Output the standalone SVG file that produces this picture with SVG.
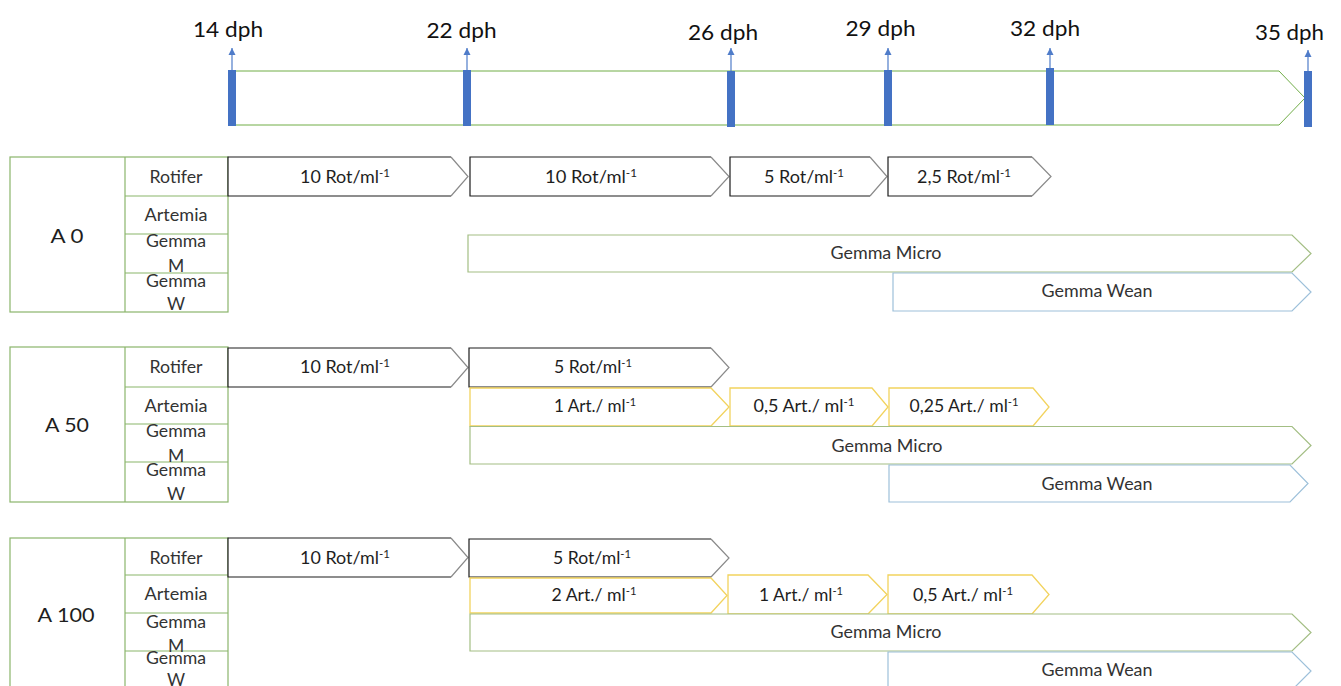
<svg xmlns="http://www.w3.org/2000/svg" width="1341" height="686" viewBox="0 0 1341 686">
<style>
text{font-family:Lato,"Open Sans","Liberation Sans",sans-serif;fill:#1e1e1e;text-anchor:middle}
.dph{font-size:21px;fill:#111}
.big{font-size:20px}
.row{font-size:17.5px;fill:#333}
.val{font-size:18px}
.sup{font-size:11.5px}
.tl{fill:#fff;stroke:#70AD47;stroke-width:1}
.bar{fill:#4472C4}
.grp{fill:#fff;stroke:#8AB56B;stroke-width:1.2}
.ln{stroke:#8AB56B;stroke-width:1.2}
.rot{fill:#fff}
.rotb{fill:none;stroke:#1c1c1c;stroke-width:1.2}
.rott{fill:none;stroke:#8a8a8a;stroke-width:1.2}
.art{fill:#fff;stroke:#F2D35E;stroke-width:1.3}
.gm{fill:#fff;stroke:#A3BE84;stroke-width:1.2}
.gw{fill:#fff;stroke:#9DC0DA;stroke-width:1.2}
.ar{stroke:#4F7CC9;stroke-width:1.2;fill:none}
</style>
<defs>
<marker id="ah" markerWidth="8" markerHeight="8" refX="7" refY="4" orient="auto" markerUnits="userSpaceOnUse">
<path d="M0,0.5 L7,4 L0,7.5 z" fill="#4F7CC9"/>
</marker>
</defs>
<rect width="1341" height="686" fill="#fff"/>

<g id="timeline">
<polygon class="tl" points="232,71 1279,71 1305,98 1279,125 232,125"/>
<rect class="bar" x="228" y="70" width="8" height="56"/>
<rect class="bar" x="463" y="70" width="8" height="56"/>
<rect class="bar" x="727" y="71" width="8" height="56"/>
<rect class="bar" x="884" y="70" width="8" height="56"/>
<rect class="bar" x="1046" y="68" width="8" height="57"/>
<rect class="bar" x="1304" y="71" width="8" height="56"/>
<text class="dph" x="228" y="37" textLength="70" lengthAdjust="spacingAndGlyphs">14 dph</text>
<text class="dph" x="461.5" y="38" textLength="70" lengthAdjust="spacingAndGlyphs">22 dph</text>
<text class="dph" x="723" y="40" textLength="70" lengthAdjust="spacingAndGlyphs">26 dph</text>
<text class="dph" x="880.5" y="36" textLength="70" lengthAdjust="spacingAndGlyphs">29 dph</text>
<text class="dph" x="1045" y="36" textLength="70" lengthAdjust="spacingAndGlyphs">32 dph</text>
<text class="dph" x="1289.5" y="40" textLength="69" lengthAdjust="spacingAndGlyphs">35 dph</text>
</g>

<g id="connectors">
<line class="ar" x1="232" y1="70" x2="232" y2="48" marker-end="url(#ah)"/>
<line class="ar" x1="467" y1="70" x2="467" y2="48" marker-end="url(#ah)"/>
<line class="ar" x1="731" y1="71" x2="731" y2="48" marker-end="url(#ah)"/>
<line class="ar" x1="888" y1="70" x2="888" y2="48" marker-end="url(#ah)"/>
<line class="ar" x1="1050" y1="68" x2="1050" y2="48" marker-end="url(#ah)"/>
<line class="ar" x1="1308" y1="71" x2="1308" y2="50" marker-end="url(#ah)"/>
</g>

<!-- ===== A 0 ===== -->
<g id="A0-label">
<rect class="grp" x="10" y="157" width="218" height="155"/>
<line class="ln" x1="125" y1="157" x2="125" y2="312"/>
<line class="ln" x1="125" y1="196" x2="228" y2="196"/>
<line class="ln" x1="125" y1="234" x2="228" y2="234"/>
<line class="ln" x1="125" y1="273" x2="228" y2="273"/>
<text class="big" x="67" y="243" textLength="33" lengthAdjust="spacingAndGlyphs">A 0</text>
<text class="row" x="176" y="183" textLength="53" lengthAdjust="spacingAndGlyphs">Rotifer</text>
<text class="row" x="176" y="221" textLength="63" lengthAdjust="spacingAndGlyphs">Artemia</text>
<text class="row" x="176" y="247" textLength="60" lengthAdjust="spacingAndGlyphs">Gemma</text>
<text class="row" x="176" y="271.5">M</text>
<text class="row" x="176" y="287" textLength="60" lengthAdjust="spacingAndGlyphs">Gemma</text>
<text class="row" x="176" y="310">W</text>
</g>
<g id="A0-rot1">
<polygon class="rot" points="228,157 451,157 468,176.5 451,196 228,196"/>
<path class="rotb" d="M451,157 H228 V196 H451"/><path class="rott" d="M451,157 L468,176.5 L451,196"/>
<text class="val" x="345" y="183" textLength="90" lengthAdjust="spacingAndGlyphs">10 Rot/ml<tspan class="sup" dy="-6">-1</tspan></text>
</g>
<g id="A0-rot2">
<polygon class="rot" points="470,157 711,157 729,176.5 711,196 470,196"/>
<path class="rotb" d="M711,157 H470 V196 H711"/><path class="rott" d="M711,157 L729,176.5 L711,196"/>
<text class="val" x="591" y="183" textLength="92" lengthAdjust="spacingAndGlyphs">10 Rot/ml<tspan class="sup" dy="-6">-1</tspan></text>
</g>
<g id="A0-rot3">
<polygon class="rot" points="730,157 870,157 887,176.5 870,196 730,196"/>
<path class="rotb" d="M870,157 H730 V196 H870"/><path class="rott" d="M870,157 L887,176.5 L870,196"/>
<text class="val" x="804" y="183" textLength="80" lengthAdjust="spacingAndGlyphs">5 Rot/ml<tspan class="sup" dy="-6">-1</tspan></text>
</g>
<g id="A0-rot4">
<polygon class="rot" points="888,157 1032,157 1051,176.5 1032,196 888,196"/>
<path class="rotb" d="M1032,157 H888 V196 H1032"/><path class="rott" d="M1032,157 L1051,176.5 L1032,196"/>
<text class="val" x="964" y="183" textLength="94" lengthAdjust="spacingAndGlyphs">2,5 Rot/ml<tspan class="sup" dy="-6">-1</tspan></text>
</g>
<g id="A0-gemma-micro">
<polygon class="gm" points="468,235 1292,235 1311,253.5 1292,272 468,272"/>
<text class="row" x="886" y="259" textLength="111" lengthAdjust="spacingAndGlyphs">Gemma Micro</text>
</g>
<g id="A0-gemma-wean">
<polygon class="gw" points="893,273 1292,273 1311,292 1292,311 893,311"/>
<text class="row" x="1097" y="297" textLength="111" lengthAdjust="spacingAndGlyphs">Gemma Wean</text>
</g>

<!-- ===== A 50 ===== -->
<g id="A50-label">
<rect class="grp" x="10" y="347" width="218" height="155"/>
<line class="ln" x1="125" y1="347" x2="125" y2="502"/>
<line class="ln" x1="125" y1="387" x2="228" y2="387"/>
<line class="ln" x1="125" y1="424" x2="228" y2="424"/>
<line class="ln" x1="125" y1="462" x2="228" y2="462"/>
<text class="big" x="67" y="432" textLength="44" lengthAdjust="spacingAndGlyphs">A 50</text>
<text class="row" x="176" y="373" textLength="53" lengthAdjust="spacingAndGlyphs">Rotifer</text>
<text class="row" x="176" y="412" textLength="63" lengthAdjust="spacingAndGlyphs">Artemia</text>
<text class="row" x="176" y="437" textLength="60" lengthAdjust="spacingAndGlyphs">Gemma</text>
<text class="row" x="176" y="461.5">M</text>
<text class="row" x="176" y="476" textLength="60" lengthAdjust="spacingAndGlyphs">Gemma</text>
<text class="row" x="176" y="499.5">W</text>
</g>
<g id="A50-rot1">
<polygon class="rot" points="228,348 451,348 468,367.5 451,387 228,387"/>
<path class="rotb" d="M451,348 H228 V387 H451"/><path class="rott" d="M451,348 L468,367.5 L451,387"/>
<text class="val" x="345" y="373" textLength="90" lengthAdjust="spacingAndGlyphs">10 Rot/ml<tspan class="sup" dy="-6">-1</tspan></text>
</g>
<g id="A50-rot2">
<polygon class="rot" points="469,348 711,348 729,367.5 711,387 469,387"/>
<path class="rotb" d="M711,348 H469 V387 H711"/><path class="rott" d="M711,348 L729,367.5 L711,387"/>
<text class="val" x="593" y="373" textLength="78" lengthAdjust="spacingAndGlyphs">5 Rot/ml<tspan class="sup" dy="-6">-1</tspan></text>
</g>
<g id="A50-art1">
<polygon class="art" points="470,388 711,388 729,407 711,426 470,426"/>
<text class="val" x="595" y="412" textLength="82" lengthAdjust="spacingAndGlyphs">1 Art./ ml<tspan class="sup" dy="-6">-1</tspan></text>
</g>
<g id="A50-art2">
<polygon class="art" points="730,388 872,388 888,407 872,426 730,426"/>
<text class="val" x="804" y="412" textLength="101" lengthAdjust="spacingAndGlyphs">0,5 Art./ ml<tspan class="sup" dy="-6">-1</tspan></text>
</g>
<g id="A50-art3">
<polygon class="art" points="889,388 1033,388 1049,407 1033,426 889,426"/>
<text class="val" x="964" y="412" textLength="109" lengthAdjust="spacingAndGlyphs">0,25 Art./ ml<tspan class="sup" dy="-6">-1</tspan></text>
</g>
<g id="A50-gemma-micro">
<polygon class="gm" points="470,426.5 1292,426.5 1311,445.5 1292,464 470,464"/>
<text class="row" x="887" y="452" textLength="111" lengthAdjust="spacingAndGlyphs">Gemma Micro</text>
</g>
<g id="A50-gemma-wean">
<polygon class="gw" points="889,465 1290,465 1308,483.5 1290,502 889,502"/>
<text class="row" x="1097" y="490" textLength="111" lengthAdjust="spacingAndGlyphs">Gemma Wean</text>
</g>

<!-- ===== A 100 ===== -->
<g id="A100-label">
<rect class="grp" x="10" y="538" width="218" height="155"/>
<line class="ln" x1="125" y1="538" x2="125" y2="693"/>
<line class="ln" x1="125" y1="575" x2="228" y2="575"/>
<line class="ln" x1="125" y1="613" x2="228" y2="613"/>
<line class="ln" x1="125" y1="651" x2="228" y2="651"/>
<text class="big" x="66" y="622" textLength="57" lengthAdjust="spacingAndGlyphs">A 100</text>
<text class="row" x="176" y="564" textLength="53" lengthAdjust="spacingAndGlyphs">Rotifer</text>
<text class="row" x="176" y="600" textLength="63" lengthAdjust="spacingAndGlyphs">Artemia</text>
<text class="row" x="176" y="628" textLength="60" lengthAdjust="spacingAndGlyphs">Gemma</text>
<text class="row" x="176" y="652">M</text>
<text class="row" x="176" y="664" textLength="60" lengthAdjust="spacingAndGlyphs">Gemma</text>
<text class="row" x="176" y="686">W</text>
</g>
<g id="A100-rot1">
<polygon class="rot" points="228,538 451,538 468,557.5 451,577 228,577"/>
<path class="rotb" d="M451,538 H228 V577 H451"/><path class="rott" d="M451,538 L468,557.5 L451,577"/>
<text class="val" x="345" y="564" textLength="90" lengthAdjust="spacingAndGlyphs">10 Rot/ml<tspan class="sup" dy="-6">-1</tspan></text>
</g>
<g id="A100-rot2">
<polygon class="rot" points="469,539 711,539 729,558 711,577 469,577"/>
<path class="rotb" d="M711,539 H469 V577 H711"/><path class="rott" d="M711,539 L729,558 L711,577"/>
<text class="val" x="592" y="564" textLength="78" lengthAdjust="spacingAndGlyphs">5 Rot/ml<tspan class="sup" dy="-6">-1</tspan></text>
</g>
<g id="A100-art1">
<polygon class="art" points="470,578 711,578 727,595.5 711,613 470,613"/>
<text class="val" x="594" y="601" textLength="85" lengthAdjust="spacingAndGlyphs">2 Art./ ml<tspan class="sup" dy="-6">-1</tspan></text>
</g>
<g id="A100-art2">
<polygon class="art" points="728,575 868,575 887,594.5 868,614 728,614"/>
<text class="val" x="801" y="601" textLength="84" lengthAdjust="spacingAndGlyphs">1 Art./ ml<tspan class="sup" dy="-6">-1</tspan></text>
</g>
<g id="A100-art3">
<polygon class="art" points="888,575 1032,575 1049,594.5 1032,614 888,614"/>
<text class="val" x="963" y="601" textLength="100" lengthAdjust="spacingAndGlyphs">0,5 Art./ ml<tspan class="sup" dy="-6">-1</tspan></text>
</g>
<g id="A100-gemma-micro">
<polygon class="gm" points="470,614 1292,614 1311,632.5 1292,651 470,651"/>
<text class="row" x="886" y="638" textLength="111" lengthAdjust="spacingAndGlyphs">Gemma Micro</text>
</g>
<g id="A100-gemma-wean">
<polygon class="gw" points="888,652 1292,652 1311,671 1292,690 888,690"/>
<text class="row" x="1097" y="676" textLength="111" lengthAdjust="spacingAndGlyphs">Gemma Wean</text>
</g>
</svg>
